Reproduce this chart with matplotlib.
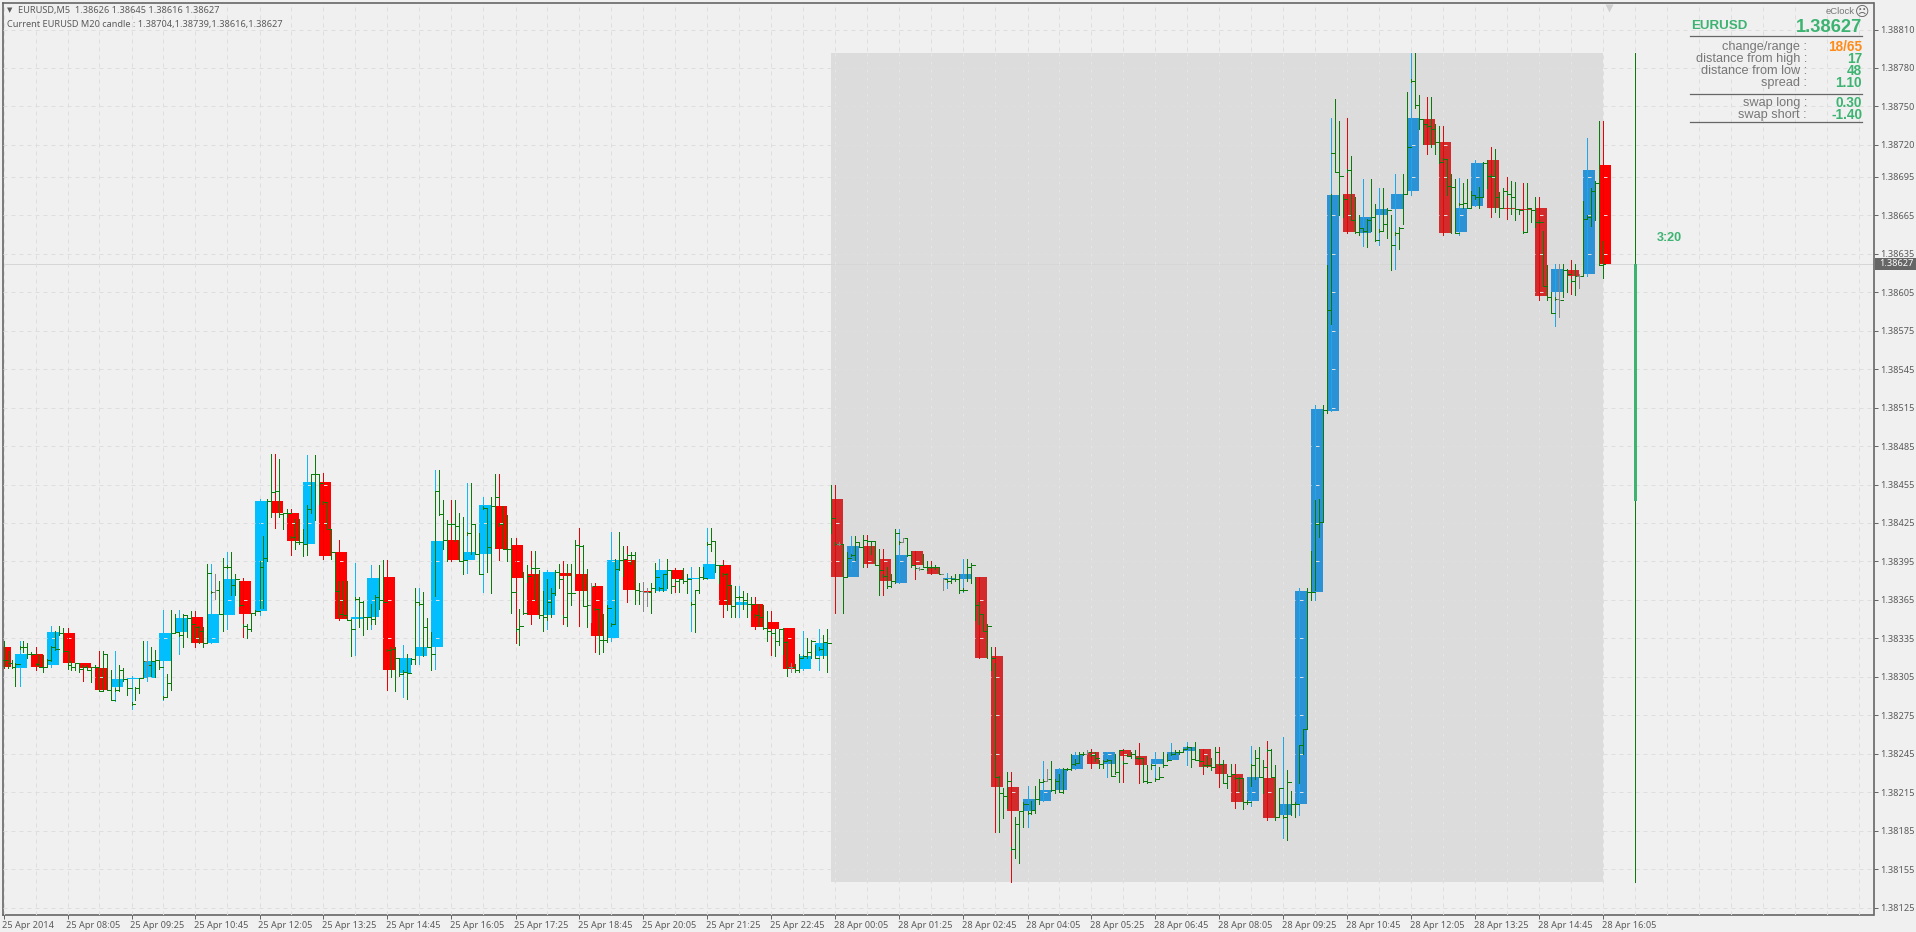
import matplotlib
matplotlib.use("Agg")
import matplotlib.pyplot as plt
from matplotlib.patches import Rectangle
from matplotlib.transforms import ScaledTranslation

BASE = 1.38
SCALE = 1e-5

# M20 candles: prices as points above 1.38000
c_open = [328,312,323,314,339,316,312,297,303,304,317,340,352,331,353,380,356,442,433,409,
          457,402,350,352,383,308,321,328,412,396,401,438,408,385,353,386,385,376,335,396,
          371,372,388,381,381,392,361,362,348,343,311,321,
          444,383,407,397,378,403,390,381,381,383,321,219,200,208,217,233,246,237,248,243,
          237,240,247,249,237,229,208,226,197,206,371,512,682,651,665,670,684,740,722,652,
          672,708,671,670,671,605,622,619,704]
c_close = [313,323,313,340,316,312,295,303,304,317,339,351,331,354,381,354,442,433,411,457,
           399,350,352,382,310,320,328,411,396,402,439,405,382,353,387,384,372,337,396,373,
           371,388,381,382,393,361,363,344,342,311,321,331,
           383,407,393,380,400,392,385,382,385,320,219,200,210,217,233,244,237,246,243,236,
           241,246,250,235,229,207,227,195,206,372,514,681,652,664,670,682,741,720,651,671,
           706,671,670,669,602,623,618,700,627]
c_high = [333,333,328,345,343,316,325,325,306,333,357,357,356,393,402,382,444,479,436,478,
          464,412,394,392,396,330,374,466,443,456,445,463,413,403,388,395,421,378,418,407,
          379,397,390,391,421,396,376,367,356,343,341,342,
          455,415,416,405,420,403,395,386,397,383,328,231,220,239,234,246,249,246,249,253,
          246,253,254,249,250,237,251,255,258,374,517,741,741,693,686,697,792,757,735,694,
          708,718,695,690,679,627,630,725,739]
c_low = [312,298,310,313,311,302,294,286,280,302,287,323,328,331,342,336,353,421,400,400,
         397,349,322,342,295,289,315,311,395,386,371,396,331,346,342,346,345,324,333,363,
         356,372,371,341,381,352,352,342,322,306,310,310,
         355,390,391,369,378,381,385,374,371,320,184,145,188,208,217,233,234,227,223,222,
         225,240,236,229,219,203,204,193,179,197,365,512,651,641,642,623,681,713,650,650,
         672,664,662,651,599,579,604,618,616]

# M5 bars: highs, lows, closes (points above 1.38000), ten per row
m5_high = [333,325,318,316,329,333,331,324,316,322, 322,319,329,341,345,343,324,317,316,316,
           314,314,313,314,313,325,322,310,296,314, 312,303,285,297,304,333,317,328,326,317,
           290,307,357,354,339,354,353,356,345,345, 344,393,372,385,380,398,392,402,385,380,
           346,346,355,357,395,415,444,479,451,475, 433,436,415,428,428,420,439,463,478,463,
           442,441,420,401,380,380,380,350,367,367, 364,352,362,369,392,396,327,328,328,320,
           310,323,320,374,363,371,351,340,450,466, 443,427,425,443,433,430,418,456,424,417,
           438,437,445,463,425,438,431,413,343,358, 387,392,391,403,388,372,381,374,388,393,
           353,393,393,412,408,408,389,378,359,358, 354,361,347,397,418,407,401,402,402,378,
           378,374,378,394,375,385,397,388,381,381, 390,385,363,373,391,391,410,421,411,392,
           386,386,377,376,368,372,370,367,354,362, 361,356,340,342,342,343,333,316,315,323,
           322,335,334,330,328,338,342,455,410,410, 408,402,401,415,410,416,412,411,411,405,
           385,391,385,420,411,413,413,403,391,391, 401,395,392,392,391,381,381,384,385,385,
           374,397,394,383,363,354,346,328,316,228, 218,231,172,196,200,207,200,208,220,225,
           225,233,239,225,229,234,234,245,241,246, 246,248,245,246,240,240,241,240,245,248,
           239,245,246,248,243,242,236,237,226,235, 246,245,246,248,248,249,251,250,254,249,
           237,243,242,250,238,240,229,237,227,227, 225,209,237,248,250,240,249,249,236,218,
           197,232,216,207,252,264,374,403,443,444, 517,626,682,756,739,681,701,711,679,665,
           654,662,693,674,654,686,671,665,652,656, 697,761,771,792,759,740,736,757,736,735,
           710,709,697,693,675,690,693,684,680,687, 707,708,697,717,683,686,683,692,691,670,
           653,690,670,679,661,653,626,605,601,627, 627,623,615,627,619,676,665,686,692,739,
           645]
m5_low = [313,312,312,298,327,324,320,322,314,313, 309,313,317,326,338,324,311,310,310,309,
          312,310,301,312,294,295,295,287,294,294, 302,291,283,287,292,304,305,306,305,311,
          288,289,295,339,337,328,336,332,335,331, 328,331,370,366,354,341,390,369,369,360,
          344,335,341,353,359,359,395,430,449,430, 420,430,413,405,409,399,400,433,427,440,
          440,420,397,372,352,352,349,321,365,344, 338,342,346,346,358,363,325,305,294,306,
          308,288,315,315,361,321,328,310,368,431, 405,395,423,411,395,385,416,401,401,385,
          436,387,370,406,423,405,395,355,341,330, 354,379,389,365,351,341,349,352,369,374,
          351,345,361,384,406,360,344,348,357,323, 324,332,345,346,388,384,399,393,362,362,
          356,360,355,371,373,372,374,370,379,371, 378,370,361,340,370,381,408,403,387,378,
          384,357,352,352,366,358,352,357,352,345, 342,333,338,321,330,323,306,309,309,309,
          320,320,320,320,326,320,309,417,408,408, 355,383,399,396,406,391,410,401,392,369,
          383,374,375,378,409,410,399,391,389,388, 391,388,390,389,385,373,379,378,380,370,
          372,380,378,349,346,341,320,310,227,184, 195,203,170,164,160,188,198,198,199,206,
          223,224,216,214,215,214,232,232,236,238, 244,245,243,239,234,234,239,228,229,223,
          237,243,242,242,241,223,222,233,224,225, 235,239,244,245,245,246,249,235,240,239,
          235,235,232,235,236,222,218,228,225,216, 202,206,220,225,227,214,247,227,193,196,
          195,178,197,196,222,245,264,365,373,414, 426,511,580,699,665,664,699,661,651,650,
          652,640,653,645,652,653,647,622,650,639, 658,682,769,749,732,721,734,718,713,706,
          708,681,651,651,673,671,671,671,678,671, 679,686,695,668,664,671,681,666,661,666,
          651,653,660,656,659,610,599,589,599,586, 601,605,613,603,608,618,663,657,661,626,
          616]
m5_close = [318,316,313,315,328,328,323,323,315,313, 313,318,328,327,339,325,314,313,316,311,
            313,310,313,313,294,323,295,287,295,310, 303,296,284,296,304,317,314,317,318,313,
            289,300,339,340,338,353,351,346,344,341, 331,386,371,373,354,391,391,377,381,361,
            345,342,355,356,391,398,442,449,450,432, 433,433,414,410,410,409,436,463,463,456,
            441,420,402,372,354,353,349,342,366,363, 352,352,350,367,365,363,326,327,320,307,
            309,308,319,363,362,344,328,323,450,432, 412,424,424,423,395,396,417,424,401,385,
            437,406,438,445,424,405,405,371,342,345, 355,384,390,390,353,352,363,370,387,381,
            352,370,370,408,407,360,361,376,358,334, 334,359,346,389,396,397,400,400,373,372,
            371,371,374,383,374,385,388,376,380,381, 380,381,362,373,383,382,409,411,392,392,
            385,377,360,367,367,365,362,362,353,352, 343,341,339,333,342,332,313,313,310,320,
            321,324,333,320,327,332,331,429,409,409, 383,398,400,410,406,412,411,411,392,388,
            384,376,380,417,410,413,400,392,390,389, 391,391,391,391,385,381,380,381,381,373,
            373,391,392,361,354,341,345,320,227,214, 212,224,171,190,200,206,199,201,210,223,
            224,225,217,224,215,233,233,237,238,245, 245,246,244,242,237,239,240,228,231,248,
            238,243,245,242,242,224,223,236,225,227, 236,240,245,246,246,249,250,241,240,239,
            236,236,235,246,237,222,228,229,226,226, 207,207,236,242,227,235,248,227,196,218,
            196,223,206,206,252,264,371,371,424,426, 513,591,714,699,696,678,700,661,652,655,
            653,661,664,646,653,658,669,642,651,655, 682,718,770,751,740,736,735,732,722,707,
            709,688,687,651,674,675,671,681,679,679, 706,696,696,679,671,684,682,679,670,669,
            652,671,669,660,660,610,601,589,600,599, 622,619,614,618,618,662,664,684,690,626,
            627]
m5_doji = [36,53,147,160,161,197,209,225,229,235,261,271,389,394]

# Session range and the day bar at the right edge
day_open, day_high, day_low, day_close = 443, 792, 145, 627
session_start, session_end = 207, 400
day_bar = 408

y_ticks = [810,780,750,720,695,665,635,605,575,545,515,485,455,425,395,365,335,305,275,245,215,185,155,125]
x_labels = ['25 Apr 2014','25 Apr 08:05','25 Apr 09:25','25 Apr 10:45','25 Apr 12:05','25 Apr 13:25',
            '25 Apr 14:45','25 Apr 16:05','25 Apr 17:25','25 Apr 18:45','25 Apr 20:05','25 Apr 21:25',
            '25 Apr 22:45','28 Apr 00:05','28 Apr 01:25','28 Apr 02:45','28 Apr 04:05','28 Apr 05:25',
            '28 Apr 06:45','28 Apr 08:05','28 Apr 09:25','28 Apr 10:45','28 Apr 12:05','28 Apr 13:25',
            '28 Apr 14:45','28 Apr 16:05']
info_labels = ['change/range :','distance from high :','distance from low :','spread :','swap long :','swap short :']
info_values = ['18/65','17','48','1.10','0.30','-1.40']
info_colors = ['#ff8c1a','#3cb371','#3cb371','#3cb371','#3cb371','#3cb371']

W, H = 1916, 932
DPI = 100
BG = '#f0f0f0'
GRID = '#dedede'
EDGE = '#666666'
GREEN = '#0a7a0a'
SEA = '#3cb371'
TXT = '#5a5a5a'
FONT = 'Noto Sans'
LW = 0.72  # one pixel

def p(v):
    return BASE + v * SCALE

fig = plt.figure(figsize=(W / DPI, H / DPI), dpi=DPI, facecolor=BG)
AL, AR, AT, AB = 2.5, 1873.5, 2.5, 914.5
ax = fig.add_axes([AL / W, 1 - AB / H, (AR - AL) / W, (AB - AT) / H], facecolor=BG)
ax.set_xlim((AL - 3.5) / 4, (AR - 3.5) / 4)
PX = 1.2818
ax.set_ylim(p(810 - (AB - 29.5) / PX), p(810 + (29.5 - AT) / PX))

major = list(range(0, 16 * len(x_labels), 16))
minor = [n for n in range(8, 465, 8) if n % 16 or n > major[-1]]
ax.set_xticks(major)
ax.set_xticklabels(x_labels, ha='left', fontsize=6.6, color=TXT, family=FONT)
ax.set_xticks(minor, minor=True)
ax.set_yticks([p(v) for v in y_ticks])
ax.set_yticklabels(['%.5f' % p(v) for v in y_ticks], fontsize=6.6, color=TXT, family=FONT)
ax.yaxis.tick_right()
ax.tick_params(axis='both', which='major', length=3, width=LW, color=EDGE, pad=2)
ax.tick_params(axis='x', which='major', pad=1.5)
ax.tick_params(axis='x', which='minor', length=0)
ax.set_axisbelow(False)
ax.grid(True, which='both', color=GRID, lw=LW, ls=(0, (4, 4)))
shift = ScaledTranslation(-1.5 / DPI, 0, fig.dpi_scale_trans)
for lab in ax.get_xticklabels():
    lab.set_transform(lab.get_transform() + shift)
for s in ax.spines.values():
    s.set_color(EDGE)
    s.set_linewidth(1.2)

ax.add_patch(Rectangle((session_start - 0.125, p(day_low)), session_end - session_start,
                       (day_high - day_low) * SCALE, fc='#dcdcdc', ec='none', zorder=1, antialiased=False))
ax.vlines(list(range(208, 400, 8)), p(day_low), p(day_high), color=BG, lw=LW,
          ls=(0, (4, 4)), zorder=1.2)
ax.axhline(p(day_close), color='#d6d6d6', lw=LW, zorder=1.3)

# M20 candles
for j, (o, h, l, c) in enumerate(zip(c_open, c_high, c_low, c_close)):
    inside = 52 <= j < 100
    up_col, dn_col = ('#2b92d6', '#d32b2b') if inside else ('#00bfff', '#ff0000')
    wick_up, wick_dn = ('#1ba7e8', '#e00a0a') if inside else ('#10b8f5', '#ee0000')
    body = up_col if c > o else dn_col
    wick = '#888888' if c == o else (wick_up if c > o else wick_dn)
    start = max(0, 4 * j - 1)
    end = 4 * j + 2
    ax.add_patch(Rectangle((start - 0.125, p(min(o, c))), end - start, max(abs(c - o), 1) * SCALE,
                           fc=body, ec='none', zorder=2, antialiased=False))
    ax.vlines(4 * j, p(l), p(h), color=wick, lw=LW, zorder=3, antialiased=False)

# M5 bars
opens = [m5_close[0]] + m5_close[:-1]
for n, (o, h, l, c) in enumerate(zip(opens, m5_high, m5_low, m5_close)):
    col = '#868686' if n in m5_doji else GREEN
    ax.vlines(n, p(l), p(h), color=col, lw=LW, zorder=4, antialiased=False)
    ax.hlines(p(o), n - 0.5, n, color=col, lw=LW, zorder=4, antialiased=False)
    ax.hlines(p(c), n, n + 0.5, color=col, lw=LW, zorder=4, antialiased=False)

# day bar
ax.vlines(day_bar, p(day_low), p(day_high), color=GREEN, lw=LW, zorder=4, antialiased=False)
ax.vlines(day_bar, p(day_open), p(day_close), color=SEA, lw=2.16, zorder=4.5, antialiased=False)

ax.plot([401.5], [p(827)], marker='v', ms=6, color='#cfcfcf', mec='none', clip_on=False, zorder=5)

def t(x, y, s, **kw):
    kw.setdefault('family', FONT)
    kw.setdefault('va', 'center')
    return fig.text(x / W, 1 - y / H, s, **kw)

t(7, 10, '\u25bc', fontsize=5, color=TXT, family='DejaVu Sans')
t(18, 10.5, 'EURUSD,M5  1.38626 1.38645 1.38616 1.38627', fontsize=6.6, color=TXT)
t(7, 24, 'Current EURUSD M20 candle : 1.38704,1.38739,1.38616,1.38627', fontsize=6.6, color=TXT)

t(1855, 12, 'eClock', fontsize=6.8, color='#777777', ha='right', family='Liberation Sans')
t(1862, 12, '\u2639', fontsize=10, color='#666666', ha='center', family='DejaVu Sans')
t(1691, 26, 'EURUSD', fontsize=9.6, fontweight='bold', color=SEA, family='Liberation Sans')
t(1862, 27, '1.38627', fontsize=13.2, fontweight='bold', color=SEA, ha='right', family='Liberation Sans')

for yy in (36, 94, 122):
    fig.add_artist(plt.Line2D([1690 / W, 1862 / W], [1 - yy / H] * 2, color=EDGE, lw=0.9))
rows = [47, 59, 71, 83, 103, 115]
for yy, lab, val, col in zip(rows, info_labels, info_values, info_colors):
    t(1807, yy, lab, fontsize=9.2, color='#777777', ha='right', family='Liberation Sans')
    t(1862, yy, val, fontsize=9.8, fontweight='bold', color=col, ha='right', family='Liberation Sans')

t(1657, 238, '3:20', fontsize=9, fontweight='bold', color=SEA, family='Liberation Sans')

fig.add_artist(Rectangle((1875 / W, 1 - 270 / H), 41 / W, 12 / H, transform=fig.transFigure,
                         fc='#666666', ec='none'))
t(1879, 264, '%.5f' % p(day_close), fontsize=6.6, color='white')

fig.savefig('out.png', dpi=DPI, facecolor=BG)
